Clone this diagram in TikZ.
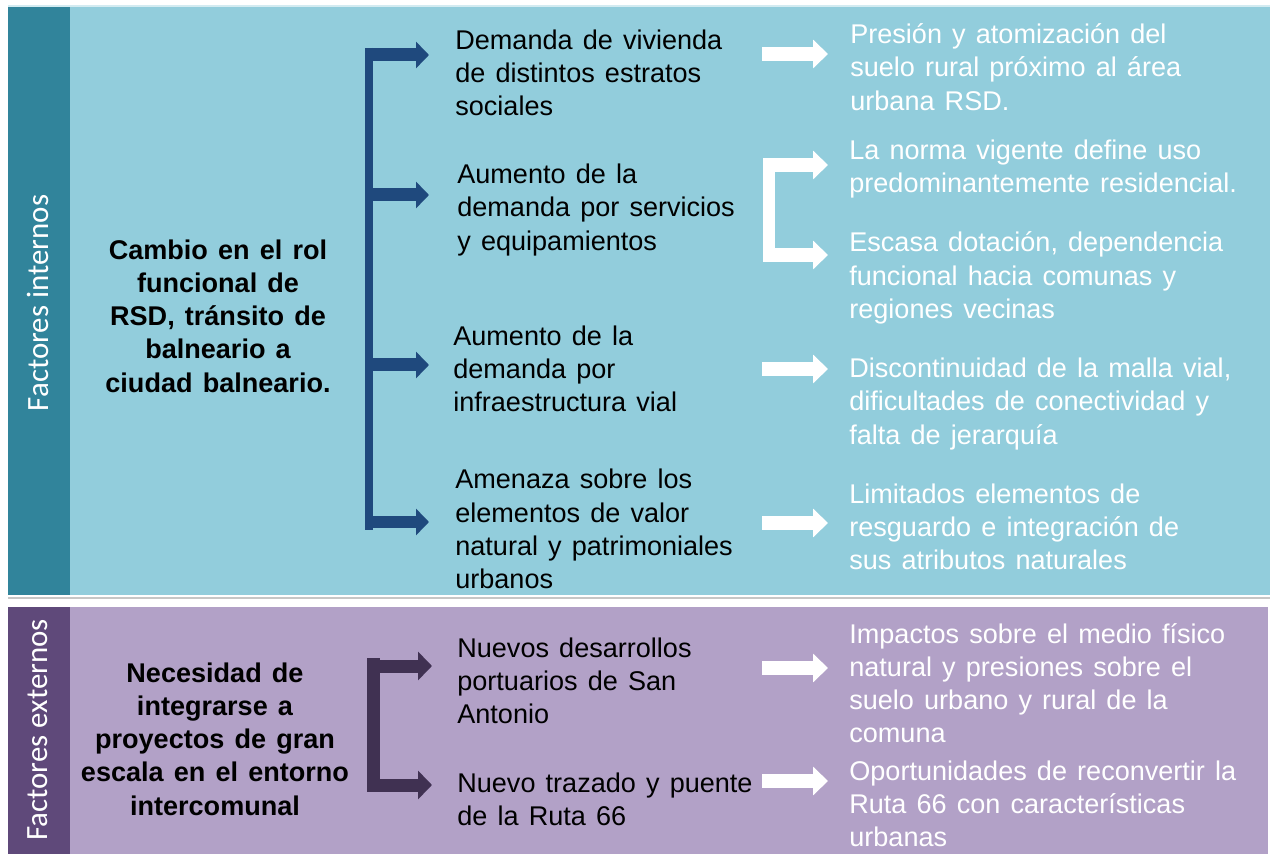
\documentclass[tikz,border=0pt]{standalone}
\usepackage{fontspec}
\setmainfont{Liberation Sans}[WordSpace=1.35]
\newfontfamily\sidefont{Carlito}
\usetikzlibrary{arrows.meta}

\definecolor{tealside}{HTML}{31849B}
\definecolor{tealpanel}{HTML}{92CDDC}
\definecolor{purpside}{HTML}{5F497A}
\definecolor{purppanel}{HTML}{B2A1C7}
\definecolor{navy}{HTML}{1F497D}
\definecolor{plum}{HTML}{403152}

\tikzset{
  body/.style={anchor=west, align=left, inner sep=0pt,
    font=\fontsize{15.4}{18.9}\selectfont},
  effect/.style={body, text=white},
  cause/.style={align=center, inner sep=0pt,
    font=\fontsize{15.4}{18.9}\selectfont\bfseries},
  side/.style={rotate=90, text=white, inner sep=0pt,
    font=\sidefont\fontsize{17.6}{20}\selectfont},
  navyarr/.style={draw=navy, line width=0.26cm,
    -{Triangle[length=0.26cm,width=0.52cm]}},
  plumarr/.style={draw=plum, line width=0.26cm,
    -{Triangle[length=0.28cm,width=0.56cm]}},
  whitearr/.style={draw=white, line width=0.27cm,
    -{Triangle[length=0.3cm,width=0.56cm]}}
}

\begin{document}
\begin{tikzpicture}[x=0.02cm, y=-0.02cm]
  \useasboundingbox (0,0) rectangle (1271,854);

  % panels
  \fill[tealpanel] (8,7) rectangle (1270,595);
  \draw[tealpanel!40, line width=0.04cm] (8,6) -- (1270,6);
  \fill[tealside] (8,7) rectangle (70,595);
  \draw[gray!45, line width=0.03cm] (8,598) -- (1270,598);
  \fill[purppanel] (8,607) rectangle (1268,854);
  \fill[purpside] (8,607) rectangle (70,854);

  \node[side] (intern) at (38,303) {Factores internos};
  \node[side] (extern) at (38,730) {Factores externos};

  % causes
  \node[cause] (cambio) at (218,316)
    {Cambio en el rol\\funcional de\\RSD, tránsito de\\balneario a\\ciudad balneario.};
  \node[cause] (neces) at (215,739)
    {Necesidad de\\integrarse a\\proyectos de gran\\escala en el entorno\\intercomunal};

  % demands
  \node[body] (dem) at (455,73) {Demanda de vivienda\\de distintos estratos\\sociales};
  \node[body] (serv) at (457,210) {Aumento de la\\demanda por servicios\\y equipamientos};
  \node[body] (vial) at (453,369) {Aumento de la\\demanda por\\infraestructura vial};
  \node[body] (amen) at (455,529) {Amenaza sobre los\\elementos de valor\\natural y patrimoniales\\urbanos};
  \node[body] (port) at (457,681) {Nuevos desarrollos\\portuarios de San\\Antonio};
  \node[body] (ruta) at (457,799) {Nuevo trazado y puente\\de la Ruta 66};

  % effects
  \node[effect] (pres) at (850,67) {Presión y atomización del\\suelo rural próximo al área\\urbana RSD.};
  \node[effect] (norma) at (849,169) {La norma vigente define uso\\predominantemente residencial.};
  \node[effect] (esc) at (849,278) {Escasa dotación, dependencia\\funcional hacia comunas y\\regiones vecinas};
  \node[effect] (disc) at (849,404) {Discontinuidad de la malla vial,\\dificultades de conectividad y\\falta de jerarquía};
  \node[effect] (lim) at (849,527) {Limitados elementos de\\resguardo e integración de\\sus atributos naturales};
  \node[effect] (imp) at (849,683) {Impactos sobre el medio físico\\natural y presiones sobre el\\suelo urbano y rural de la\\comuna};
  \node[effect] (opo) at (849,804) {Oportunidades de reconvertir la\\Ruta 66 con características\\urbanas};

  % navy bracket
  \coordinate (nt) at (369,48);
  \coordinate (nb) at (369,530);
  \draw[navy, line width=0.16cm] (nt) -- (nb);
  \coordinate (n1) at (365,55);  \coordinate (d1) at (429,55);
  \coordinate (n2) at (369,195); \coordinate (d2) at (429,195);
  \coordinate (n3) at (369,365); \coordinate (d3) at (429,365);
  \coordinate (n4) at (365,522); \coordinate (d4) at (429,522);
  \draw[navyarr] (n1) -- (d1);
  \draw[navyarr] (n2) -- (d2);
  \draw[navyarr] (n3) -- (d3);
  \draw[navyarr] (n4) -- (d4);

  % plum bracket
  \coordinate (pt) at (373.5,658);
  \coordinate (pb) at (373.5,792);
  \draw[plum, line width=0.26cm] (pt) -- (pb);
  \coordinate (p1) at (367,666); \coordinate (q1) at (432,666);
  \coordinate (p2) at (367,785); \coordinate (q2) at (432,785);
  \draw[plumarr] (p1) -- (q1);
  \draw[plumarr] (p2) -- (q2);

  % white arrows
  \coordinate (w1) at (762,54);  \coordinate (e1) at (828,54);
  \coordinate (wt) at (769,158); \coordinate (wb) at (769,262);
  \draw[white, line width=0.24cm] (wt) -- (wb);
  \coordinate (w2) at (763,165); \coordinate (e2) at (828,165);
  \coordinate (w3) at (763,255); \coordinate (e3) at (828,255);
  \coordinate (w4) at (762,369); \coordinate (e4) at (828,369);
  \coordinate (w5) at (762,523); \coordinate (e5) at (828,523);
  \coordinate (w6) at (762,668); \coordinate (e6) at (828,668);
  \coordinate (w7) at (762,781); \coordinate (e7) at (828,781);
  \draw[whitearr] (w1) -- (e1);
  \draw[whitearr] (w2) -- (e2);
  \draw[whitearr] (w3) -- (e3);
  \draw[whitearr] (w4) -- (e4);
  \draw[whitearr] (w5) -- (e5);
  \draw[whitearr] (w6) -- (e6);
  \draw[whitearr] (w7) -- (e7);
\end{tikzpicture}
\end{document}
